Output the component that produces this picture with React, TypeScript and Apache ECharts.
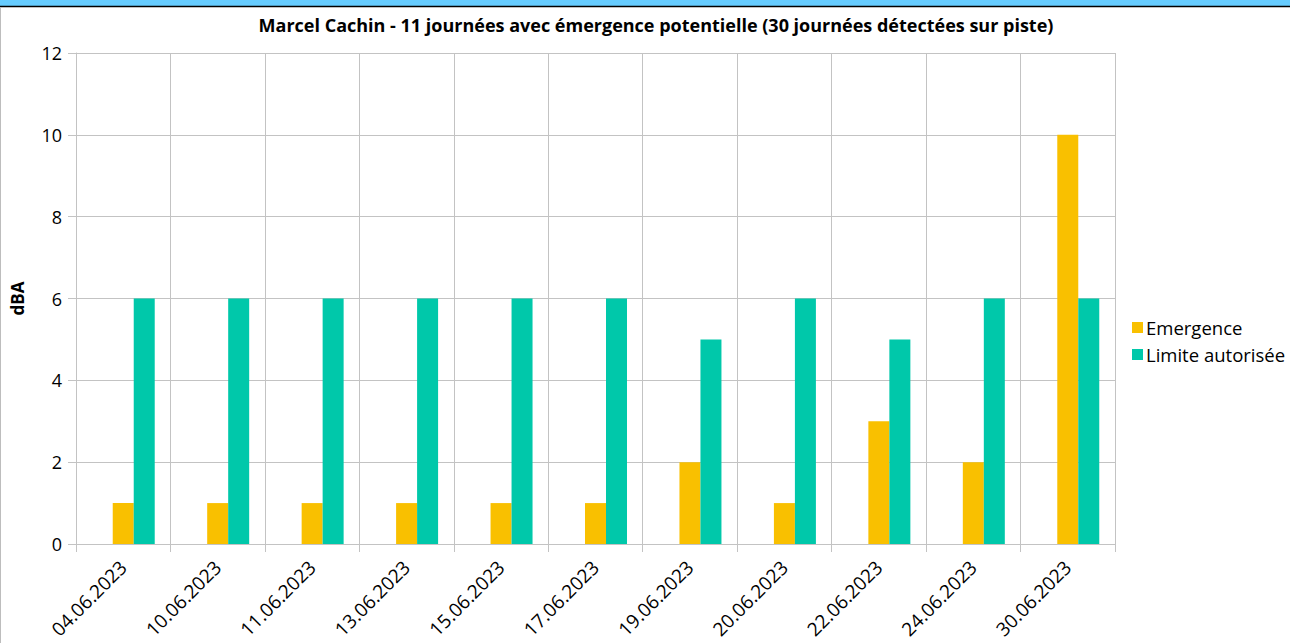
import React, { useEffect, useRef } from "react";
import * as echarts from "echarts";

const categories = [
  "04.06.2023", "10.06.2023", "11.06.2023", "13.06.2023", "15.06.2023", "17.06.2023",
  "19.06.2023", "20.06.2023", "22.06.2023", "24.06.2023", "30.06.2023",
];
const emergence = [1, 1, 1, 1, 1, 1, 2, 1, 3, 2, 10];
const limite = [6, 6, 6, 6, 6, 6, 5, 6, 5, 6, 6];
const hiddenSeries = categories.map(() => null);
const yTicks = { min: 0, max: 12, interval: 2 };

const TITLE = "Marcel Cachin - 11 journées avec émergence potentielle (30 journées détectées sur piste)";
const FONT = "'Open Sans', 'Noto Sans', sans-serif";
const GRID = "#c3c3c3";

export default function App() {
  const ref = useRef<HTMLDivElement>(null);
  useEffect(() => {
    if (!ref.current) return;
    const chart = echarts.init(ref.current, undefined, { renderer: "svg" });
    chart.setOption({
      animation: false,
      backgroundColor: "#ffffff",
      textStyle: { fontFamily: FONT },
      title: {
        text: TITLE,
        left: 651,
        top: 11,
        textAlign: "center",
        textStyle: { fontFamily: FONT, fontSize: 18, fontWeight: "bold", color: "#000" },
      },
      legend: {
        data: ["Emergence", "Limite autorisée"],
        orient: "vertical",
        left: 1127,
        top: 313,
        itemWidth: 11,
        itemHeight: 11,
        itemGap: 8,
        icon: "rect",
        textStyle: { fontFamily: FONT, fontSize: 18.5, color: "#000", padding: [0, 0, 0, -2] },
      },
      grid: { left: 76, right: 175, top: 53, bottom: 99, containLabel: false },
      xAxis: {
        type: "category",
        data: categories,
        boundaryGap: true,
        axisLine: { show: true, lineStyle: { color: GRID, width: 1 } },
        axisTick: { show: true, length: 8, lineStyle: { color: GRID } },
        splitLine: { show: true, lineStyle: { color: GRID, width: 1 } },
        axisLabel: {
          rotate: 45,
          fontSize: 19,
          color: "#000",
          fontFamily: FONT,
          margin: 20,
          interval: 0,
        },
      },
      yAxis: {
        type: "value",
        min: yTicks.min,
        max: yTicks.max,
        interval: yTicks.interval,
        name: "dBA",
        nameLocation: "middle",
        nameGap: 50,
        nameRotate: 90,
        nameTextStyle: { fontFamily: FONT, fontSize: 17, fontWeight: "bold", color: "#000" },
        axisLine: { show: true, lineStyle: { color: GRID } },
        axisTick: { show: true, length: 8, lineStyle: { color: GRID } },
        splitLine: { show: true, lineStyle: { color: GRID, width: 1 } },
        axisLabel: { fontSize: 18, color: "#000", fontFamily: FONT, margin: 14 },
      },
      series: [
        {
          name: "_hidden",
          type: "bar",
          data: hiddenSeries,
          barWidth: 21,
          barGap: "0%",
          itemStyle: { color: "transparent" },
        },
        {
          name: "Emergence",
          type: "bar",
          data: emergence,
          barWidth: 21,
          barGap: "0%",
          itemStyle: { color: "#F9C000" },
        },
        {
          name: "Limite autorisée",
          type: "bar",
          data: limite,
          barWidth: 21,
          barGap: "0%",
          itemStyle: { color: "#00C8AA" },
        },
      ],
      graphic: [
        { type: "rect", shape: { x: 0, y: 0, width: 1290, height: 6 }, style: { fill: "#66CCFF" }, silent: true },
        { type: "line", shape: { x1: 0, y1: 6.5, x2: 1290, y2: 6.5 }, style: { stroke: "#000", lineWidth: 1.5 }, silent: true },
        { type: "line", shape: { x1: 0.5, y1: 7, x2: 0.5, y2: 643 }, style: { stroke: "#bdbdbd", lineWidth: 1 }, silent: true },
      ],
    });
    return () => chart.dispose();
  }, []);
  return (
    <div
      ref={ref}
      style={{ position: "absolute", left: 0, top: 0, width: 1290, height: 643 }}
    />
  );
}
